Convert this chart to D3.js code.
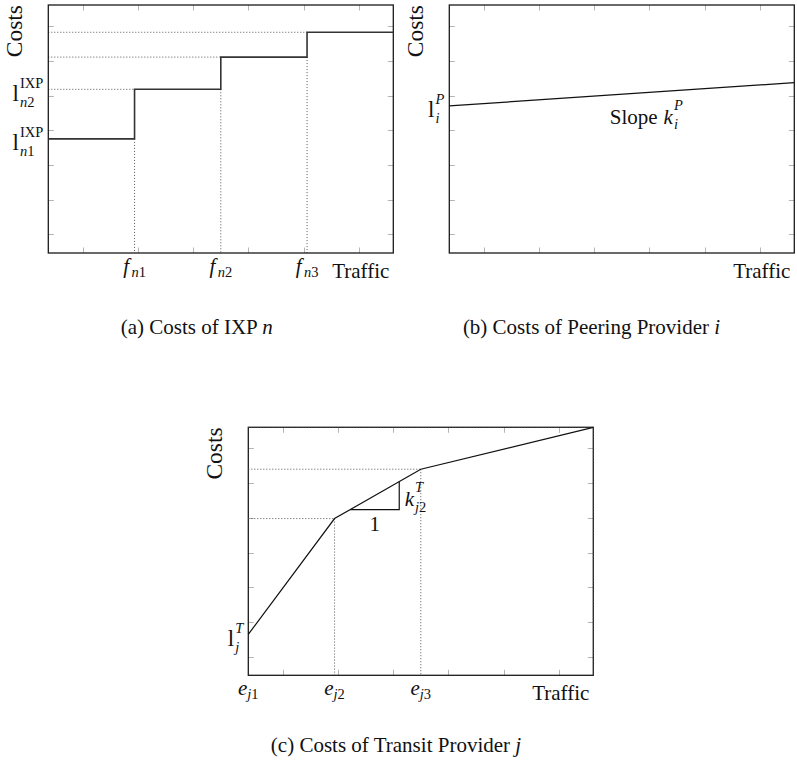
<!DOCTYPE html>
<html>
<head>
<meta charset="utf-8">
<script src="https://cdn.jsdelivr.net/npm/d3@7"></script>
<style>
  html, body { margin: 0; padding: 0; background: #fff; }
  svg { display: block; }
  text { fill: #111; }
</style>
</head>
<body>
<svg id="fig" width="797" height="767"></svg>
<script>
// ---- data ----------------------------------------------------------
// shared (unlabelled) tick positions in data units
const xTicks = [0.4, 1.04, 1.68, 2.32, 2.96, 3.6];
const yTicks = [0.75, 2.15, 3.55, 4.95, 6.35, 7.75, 9.15];

// (a) IXP: step function, cost level holds until the next breakpoint
const ixpTraffic = [0, 1, 2, 3, 4];
const ixpCost    = [4.6, 6.6, 7.9, 8.9, 8.9];
const ixpBreakSubs = ["1", "2", "3"];          // f_{n1}, f_{n2}, f_{n3}
const ixpLevelSubs = ["1", "2"];               // l^{IXP}_{n1}, l^{IXP}_{n2}

// (b) peering provider: linear cost
const peerTraffic = [0, 4];
const peerCost    = [5.93, 6.87];

// (c) transit provider: piecewise linear, concave
const transitTraffic = [0, 1, 2, 4];
const transitCost    = [1.65, 6.32, 8.31, 10.0];
const transitBreakSubs = ["1", "2", "3"];      // e_{j1}, e_{j2}, e_{j3}
const slopeTriangle = [1.18, 1.75];            // run of the slope triangle on segment 2

const captions = [
  { pre: "(a) Costs of IXP ", it: "n" },
  { pre: "(b) Costs of Peering Provider ", it: "i" },
  { pre: "(c) Costs of Transit Provider ", it: "j" }
];

// ---- font: first serif face that is actually installed ---------------
function hasFont(name) {
  const ctx = document.createElement("canvas").getContext("2d");
  const probe = "mmmmmmmmmmlli WwXxQq 0123";
  return ["monospace", "sans-serif", "serif"].some(base => {
    ctx.font = "72px " + base;
    const w0 = ctx.measureText(probe).width;
    ctx.font = `72px "${name}", ${base}`;
    return ctx.measureText(probe).width !== w0;
  });
}
const serifCandidates = ["Liberation Serif", "Times New Roman", "Tinos", "Nimbus Roman",
  "Nimbus Roman No9 L", "FreeSerif", "DejaVu Serif", "Noto Serif", "Droid Serif", "Georgia"];
const FONT = (serifCandidates.find(hasFont) ? `"${serifCandidates.find(hasFont)}", ` : "") + "serif";

// ---- layout --------------------------------------------------------
const W = 345, H = 248;
const MAIN = 21, SCRIPT = 14.5, YLABEL = 23.5;
const svg = d3.select("#fig").style("font-family", FONT);

function panel(left, top) {
  const x = d3.scaleLinear().domain([0, 4]).range([left, left + W]);
  const y = d3.scaleLinear().domain([0, 10]).range([top + H, top]);
  const g = svg.append("g");
  return { x, y, g, left, top, right: left + W, bottom: top + H };
}

function drawFrame(p) {
  const tk = 5.5;
  const ticks = p.g.append("g").attr("stroke", "#b4b4b4").attr("stroke-width", 1);
  xTicks.forEach(v => {
    const px = Math.round(p.x(v)) + 0.5;
    ticks.append("line").attr("x1", px).attr("x2", px).attr("y1", p.bottom).attr("y2", p.bottom - tk);
    ticks.append("line").attr("x1", px).attr("x2", px).attr("y1", p.top).attr("y2", p.top + tk);
  });
  yTicks.forEach(v => {
    const py = Math.round(p.y(v)) + 0.5;
    ticks.append("line").attr("y1", py).attr("y2", py).attr("x1", p.left).attr("x2", p.left + tk);
    ticks.append("line").attr("y1", py).attr("y2", py).attr("x1", p.right).attr("x2", p.right - tk);
  });
}

function drawBox(p) {
  p.g.append("rect")
    .attr("x", p.left).attr("y", p.top).attr("width", W).attr("height", H)
    .attr("fill", "none").attr("stroke", "#1a1a1a").attr("stroke-width", 1.3);
}

function dotted(p, x1, y1, x2, y2) {
  p.g.append("line")
    .attr("x1", p.x(x1)).attr("y1", p.y(y1)).attr("x2", p.x(x2)).attr("y2", p.y(y2))
    .attr("stroke", "#555").attr("stroke-width", 1).attr("stroke-dasharray", "1 2");
}

// base symbol with stacked super/subscript; sub is a list of [text, italic]
function mathText(parent, o) {
  const g = parent.append("g");
  const b = g.append("text").attr("x", 0).attr("y", 0)
    .style("font-size", (o.baseSize || MAIN) + "px").style("font-style", o.baseItalic ? "italic" : "normal")
    .text(o.base);
  const bw = b.node().getComputedTextLength();
  const gap = o.gap == null ? 1 : o.gap;
  const subGap = o.subGap == null ? gap : o.subGap;
  let sw = 0, subw = 0;
  if (o.sup) {
    const s = g.append("text").attr("x", bw + gap).attr("y", o.supDy == null ? -13 : o.supDy)
      .style("font-size", SCRIPT + "px").style("font-style", o.supItalic ? "italic" : "normal")
      .text(o.sup);
    sw = s.node().getComputedTextLength() + gap;
  }
  if (o.sub) {
    const s = g.append("text").attr("x", bw + subGap)
      .attr("y", o.subDy == null ? 6 : o.subDy).style("font-size", SCRIPT + "px");
    o.sub.forEach(([t, it]) => s.append("tspan").style("font-style", it ? "italic" : "normal").text(t));
    subw = s.node().getComputedTextLength() + subGap;
  }
  const total = bw + Math.max(sw, subw);
  const dx = o.anchor === "end" ? -total : o.anchor === "middle" ? -total / 2 : 0;
  g.attr("transform", `translate(${o.x + dx},${o.y})`);
  return g;
}

function axisTitles(p) {
  p.g.append("text")
    .attr("transform", `translate(${p.left - 26},${p.top}) rotate(-90)`)
    .attr("text-anchor", "end").style("font-size", YLABEL + "px").text("Costs");
  p.g.append("text")
    .attr("x", p.right - 4).attr("y", p.bottom + 24.5)
    .attr("text-anchor", "end").style("font-size", MAIN + "px").text("Traffic");
}

function yLevelLabel(p, value, opts) {
  mathText(p.g, Object.assign({
    x: p.left - 5, y: p.y(value) + 11.5, base: "l", baseSize: 23, anchor: "end",
    supDy: -13, subDy: 6
  }, opts));
}

function xBreakLabel(p, value, base, sub, gap) {
  mathText(p.g, {
    x: p.x(value), y: p.bottom + 19.5, base, baseItalic: true, anchor: "middle",
    sub, gap: 0, subGap: gap, subDy: 4.5
  });
}

function caption(cx, cy, c) {
  const t = svg.append("text").attr("x", cx).attr("y", cy).attr("text-anchor", "middle")
    .style("font-size", MAIN + "px").attr("xml:space", "preserve");
  t.append("tspan").text(c.pre);
  t.append("tspan").style("font-style", "italic").text(c.it);
}

// ---- (a) costs of IXP n -------------------------------------------
{
  const p = panel(48.3, 5);
  drawFrame(p);
  for (let i = 1; i < ixpTraffic.length - 1; i++) {
    dotted(p, 0, ixpCost[i], ixpTraffic[i], ixpCost[i]);
    dotted(p, ixpTraffic[i], ixpCost[i - 1], ixpTraffic[i], 0);
  }
  drawBox(p);
  const pts = ixpTraffic.map((t, i) => [t, ixpCost[i]]);
  p.g.append("path")
    .attr("d", d3.line().x(d => p.x(d[0])).y(d => p.y(d[1])).curve(d3.curveStepAfter)(pts))
    .attr("fill", "none").attr("stroke", "#333").attr("stroke-width", 1.6);
  ixpLevelSubs.forEach((s, i) =>
    yLevelLabel(p, ixpCost[i], { sup: "IXP", sub: [["n", true], [s, false]] }));
  ixpBreakSubs.forEach((s, i) =>
    xBreakLabel(p, ixpTraffic[i + 1], "f", [["n", true], [s, false]], 2.5));
  axisTitles(p);
}

// ---- (b) costs of peering provider i ------------------------------
{
  const p = panel(449.3, 5);
  drawFrame(p);
  drawBox(p);
  const pts = peerTraffic.map((t, i) => [t, peerCost[i]]);
  p.g.append("path")
    .attr("d", d3.line().x(d => p.x(d[0])).y(d => p.y(d[1]))(pts))
    .attr("fill", "none").attr("stroke", "#111").attr("stroke-width", 1.2);
  yLevelLabel(p, peerCost[0], { sup: "P", supItalic: true, sub: [["i", true]] });

  // "Slope k_i^P" below the line
  const lineAt = d3.scaleLinear().domain(peerTraffic).range(peerCost);
  const lx = 1.86;
  const ly = p.y(lineAt(lx)) + 29;
  const s = p.g.append("text").attr("x", p.x(lx)).attr("y", ly)
    .style("font-size", MAIN + "px").text("Slope");
  const sw = s.node().getComputedTextLength();
  mathText(p.g, {
    x: p.x(lx) + sw + 6, y: ly, base: "k", baseItalic: true, anchor: "start",
    sup: "P", supItalic: true, sub: [["i", true]], supDy: -14, subDy: 5
  });
  axisTitles(p);
}

// ---- (c) costs of transit provider j ------------------------------
{
  const p = panel(248.3, 427.3);
  drawFrame(p);
  drawBox(p);
  for (let i = 1; i < transitTraffic.length; i++) {
    dotted(p, 0, transitCost[i], transitTraffic[i], transitCost[i]);
    dotted(p, transitTraffic[i], transitCost[i], transitTraffic[i], 0);
  }
  const pts = transitTraffic.map((t, i) => [t, transitCost[i]]);
  p.g.append("path")
    .attr("d", d3.line().x(d => p.x(d[0])).y(d => p.y(d[1]))(pts))
    .attr("fill", "none").attr("stroke", "#111").attr("stroke-width", 1.2);

  // slope triangle on the second segment
  const lineAt = d3.scaleLinear().domain(transitTraffic).range(transitCost);
  const [t0, t1] = slopeTriangle;
  const c0 = lineAt(t0), c1 = lineAt(t1);
  p.g.append("path")
    .attr("d", `M${p.x(t0)},${p.y(c0)}H${p.x(t1)}V${p.y(c1)}`)
    .attr("fill", "none").attr("stroke", "#111").attr("stroke-width", 1.2);
  p.g.append("text")
    .attr("x", (p.x(t0) + p.x(t1)) / 2).attr("y", p.y(c0) + 21)
    .attr("text-anchor", "middle").style("font-size", MAIN + "px").text("1");
  mathText(p.g, {
    x: p.x(t1) + 5.5, y: (p.y(c0) + p.y(c1)) / 2 + 10, base: "k", baseItalic: true,
    anchor: "start", sup: "T", supItalic: true, sub: [["j", true], ["2", false]],
    supDy: -14, subDy: 6
  });

  yLevelLabel(p, transitCost[0], { sup: "T", supItalic: true, sub: [["j", true]] });
  transitBreakSubs.forEach((s, i) =>
    xBreakLabel(p, transitTraffic[i], "e", [["j", true], [s, false]], 0));
  axisTitles(p);
}

// ---- captions -------------------------------------------------------
caption(196.7, 334, captions[0]);
caption(591.5, 334, captions[1]);
caption(396, 752, captions[2]);
</script>
</body>
</html>
